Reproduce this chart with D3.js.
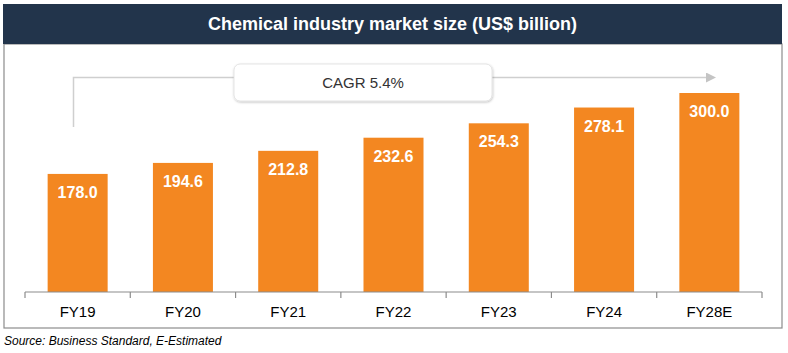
<!DOCTYPE html>
<html>
<head>
<meta charset="utf-8">
<script src="https://cdn.jsdelivr.net/npm/d3@7"></script>
<style>
  body { margin: 0; background: #fff; }
  svg { display: block; font-family: "Liberation Sans", Arial, sans-serif; }
</style>
</head>
<body>
<div id="chart"></div>
<script>
// data
const categories = ["FY19", "FY20", "FY21", "FY22", "FY23", "FY24", "FY28E"];
const marketSize = [178.0, 194.6, 212.8, 232.6, 254.3, 278.1, 300.0];
const titleText = "Chemical industry market size (US$ billion)";
const cagrText = "CAGR 5.4%";
const sourceText = "Source: Business Standard, E-Estimated";

const W = 788, H = 353;
const svg = d3.select("#chart").append("svg")
    .attr("width", W).attr("height", H);

// drop shadow for the CAGR box
const defs = svg.append("defs");
const f = defs.append("filter").attr("id", "shadow")
    .attr("x", "-10%").attr("y", "-30%").attr("width", "120%").attr("height", "160%");
f.append("feDropShadow").attr("dx", 0.5).attr("dy", 1).attr("stdDeviation", 1.2)
    .attr("flood-color", "#000").attr("flood-opacity", 0.25);
defs.append("marker").attr("id", "arrow")
    .attr("viewBox", "0 0 10 10").attr("refX", 0).attr("refY", 5)
    .attr("markerWidth", 10).attr("markerHeight", 10)
    .attr("markerUnits", "userSpaceOnUse").attr("orient", "auto")
  .append("path").attr("d", "M0,0 L10,5 L0,10 Z").attr("fill", "#c4c4c4");

// frame
svg.append("rect")
    .attr("x", 4).attr("y", 44).attr("width", 778).attr("height", 284)
    .attr("fill", "none").attr("stroke", "#8c8c8c").attr("stroke-width", 1.2);

// title banner
svg.append("rect")
    .attr("x", 3).attr("y", 4).attr("width", 779).attr("height", 40)
    .attr("fill", "#22344b");
svg.append("text")
    .attr("x", 392.5).attr("y", 29.5)
    .attr("text-anchor", "middle")
    .attr("fill", "#fff").attr("font-weight", "bold").attr("font-size", 18)
    .text(titleText);

// scales
const x = d3.scaleBand().domain(categories).range([25, 762]).paddingInner(0.43).paddingOuter(0.215);
const y = d3.scaleLinear().domain([0, 300]).range([292, 93]);

// bars
svg.selectAll("rect.bar").data(marketSize).enter().append("rect")
    .attr("class", "bar")
    .attr("x", (d, i) => x(categories[i]))
    .attr("y", d => y(d))
    .attr("width", x.bandwidth())
    .attr("height", d => y(0) - y(d))
    .attr("fill", "#f38721");

svg.selectAll("text.val").data(marketSize).enter().append("text")
    .attr("class", "val")
    .attr("x", (d, i) => x(categories[i]) + x.bandwidth() / 2)
    .attr("y", d => y(d) + 24)
    .attr("text-anchor", "middle")
    .attr("fill", "#fff").attr("font-weight", "bold").attr("font-size", 16)
    .text(d => d.toFixed(1));

// x axis
const xAxis = svg.append("g").attr("transform", "translate(0,292)");
const step = x.step();
const edges = d3.range(categories.length + 1).map(i => 25 + i * step);
xAxis.append("line").attr("x1", 25).attr("x2", 762).attr("y1", 0).attr("y2", 0)
    .attr("stroke", "#8c8c8c").attr("stroke-width", 1.2);
xAxis.selectAll("line.tick").data(edges).enter().append("line")
    .attr("class", "tick")
    .attr("x1", d => d).attr("x2", d => d).attr("y1", 0).attr("y2", 6)
    .attr("stroke", "#8c8c8c").attr("stroke-width", 1.2);
xAxis.selectAll("text").data(categories).enter().append("text")
    .attr("x", d => x(d) + x.bandwidth() / 2)
    .attr("y", 25)
    .attr("text-anchor", "middle")
    .attr("fill", "#000").attr("font-size", 15)
    .text(d => d);

// CAGR connector
svg.append("path")
    .attr("d", "M73.5,127 L73.5,77.5 L706,77.5")
    .attr("fill", "none").attr("stroke", "#cfcfcf").attr("stroke-width", 1.5)
    .attr("marker-end", "url(#arrow)");

svg.append("rect")
    .attr("x", 234).attr("y", 64).attr("width", 258).attr("height", 37)
    .attr("rx", 6).attr("ry", 6)
    .attr("fill", "#fff").attr("stroke", "#dedede").attr("stroke-width", 0.8)
    .attr("filter", "url(#shadow)");
svg.append("text")
    .attr("x", 363).attr("y", 88)
    .attr("text-anchor", "middle")
    .attr("fill", "#333").attr("font-size", 15)
    .text(cagrText);

// source
svg.append("text")
    .attr("x", 4).attr("y", 345)
    .attr("fill", "#000").attr("font-size", 12).attr("font-style", "italic")
    .text(sourceText);
</script>
</body>
</html>
